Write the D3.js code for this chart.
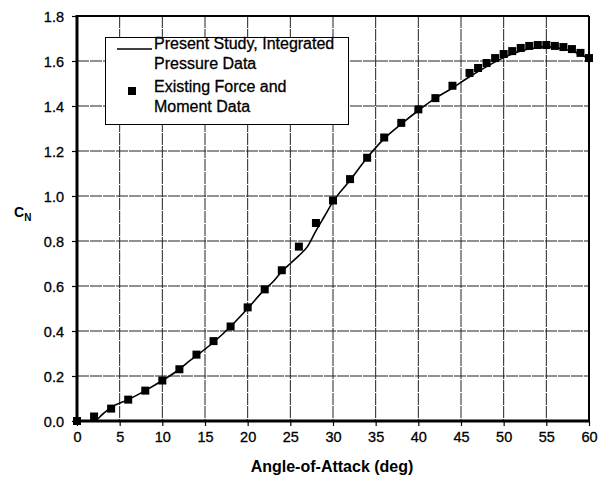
<!DOCTYPE html>
<html>
<head>
<meta charset="utf-8">
<script src="https://cdn.jsdelivr.net/npm/d3@7"></script>
<style>
  body { margin: 0; background: #fff; }
  svg { font-family: "Liberation Sans", Arial, sans-serif; }
</style>
</head>
<body>
<div id="content"></div>
<script>
// existing force and moment data (squares)
const forceAlpha = [0, 2, 4, 6, 8, 10, 12, 14, 16, 18, 20, 22, 24, 26, 28, 30, 32, 34, 36, 38, 40, 42, 44,
  46, 47, 48, 49, 50, 51, 52, 53, 54, 55, 56, 57, 58, 59, 60];
const forceCN = [0.0, 0.02, 0.055, 0.095, 0.135, 0.18, 0.23, 0.295, 0.355, 0.42, 0.505, 0.585, 0.67, 0.775, 0.88, 0.98,
  1.075, 1.17, 1.26, 1.325, 1.385, 1.435, 1.49,
  1.547, 1.569, 1.591, 1.613, 1.631, 1.644, 1.658, 1.667, 1.671, 1.671, 1.667, 1.662, 1.653, 1.636, 1.613];

// present study, integrated pressure data (line)
const pressAlpha = [0, 2, 3, 4, 6, 8, 10, 12, 13, 14, 16, 18, 20, 22, 23, 24, 25, 26, 27, 28, 29, 30,
  32, 34, 36, 38, 40, 42, 44, 46, 48, 50, 52, 54, 55, 56, 58, 60];
const pressCN = [0.0, 0.0, 0.03, 0.06, 0.095, 0.135, 0.18, 0.23, 0.262, 0.29, 0.35, 0.42, 0.50, 0.585, 0.62, 0.665,
  0.70, 0.735, 0.775, 0.845, 0.91, 0.975, 1.07, 1.17, 1.255, 1.32, 1.38, 1.435, 1.48, 1.53, 1.575, 1.615,
  1.645, 1.66, 1.665, 1.66, 1.645, 1.61];

const xTicks = [0, 5, 10, 15, 20, 25, 30, 35, 40, 45, 50, 55, 60];
const yTicks = [0, 0.2, 0.4, 0.6, 0.8, 1.0, 1.2, 1.4, 1.6, 1.8];
const legendLabels = [["Present Study, Integrated", "Pressure Data"], ["Existing Force and", "Moment Data"]];

const W = 606, H = 479;
const svg = d3.select("#content").append("svg").attr("width", W).attr("height", H);

const x = d3.scaleLinear().domain([0, 60]).range([77, 589]);
const y = d3.scaleLinear().domain([0, 1.8]).range([421, 16]);

// grid
svg.append("g").selectAll("line").data(xTicks.slice(1, -1)).join("line")
  .attr("x1", d => x(d)).attr("x2", d => x(d))
  .attr("y1", y(1.8)).attr("y2", y(0))
  .attr("stroke", "#222").attr("stroke-width", 1).attr("stroke-dasharray", "12,1");
svg.append("g").selectAll("line").data(yTicks.slice(1, -1)).join("line")
  .attr("x1", x(0)).attr("x2", x(60))
  .attr("y1", d => y(d)).attr("y2", d => y(d))
  .attr("stroke", "#222").attr("stroke-width", 1).attr("stroke-dasharray", "12,1");

// axes
const xAxis = svg.append("g").attr("transform", `translate(0,${y(0)})`)
  .call(d3.axisBottom(x).tickValues(xTicks).tickSize(5).tickSizeOuter(0).tickPadding(6).tickFormat(d3.format("d")));
const yAxis = svg.append("g").attr("transform", `translate(${x(0)},0)`)
  .call(d3.axisLeft(y).tickValues(yTicks).tickSize(5).tickSizeOuter(0).tickPadding(8).tickFormat(d3.format(".1f")));
[xAxis, yAxis].forEach(a => {
  a.select(".domain").remove();
  a.selectAll(".tick line").attr("stroke", "#000").attr("stroke-width", 1.2);
  a.selectAll("text").attr("font-size", 14.5).attr("fill", "#000")
    .attr("stroke", "#000").attr("stroke-width", 0.3)
    .attr("font-family", "Liberation Sans, Arial, sans-serif");
});
yAxis.selectAll("text").attr("dy", "0.36em");

// frame
svg.append("line").attr("x1", x(0)).attr("x2", x(60)).attr("y1", y(1.8)).attr("y2", y(1.8))
  .attr("stroke", "#000").attr("stroke-width", 2);
svg.append("line").attr("x1", x(60)).attr("x2", x(60)).attr("y1", y(1.8)).attr("y2", y(0))
  .attr("stroke", "#000").attr("stroke-width", 2);
svg.append("line").attr("x1", x(0)).attr("x2", x(0)).attr("y1", y(1.8) - 1).attr("y2", y(0) + 1.5)
  .attr("stroke", "#000").attr("stroke-width", 3);
svg.append("line").attr("x1", x(0) - 1.5).attr("x2", x(60) + 1).attr("y1", y(0)).attr("y2", y(0))
  .attr("stroke", "#000").attr("stroke-width", 3);

// line series
const line = d3.line().x((d, i) => x(pressAlpha[i])).y(d => y(d)).curve(d3.curveMonotoneX);
svg.append("path").datum(pressCN).attr("d", line)
  .attr("fill", "none").attr("stroke", "#000").attr("stroke-width", 1.6);

// squares
const s = 8;
svg.append("g").selectAll("rect").data(forceCN).join("rect")
  .attr("x", (d, i) => x(forceAlpha[i]) - s / 2).attr("y", d => y(d) - s / 2)
  .attr("width", s).attr("height", s).attr("fill", "#000");

// legend
const lg = svg.append("g");
lg.append("rect").attr("x", 105.5).attr("y", 37.5).attr("width", 243).attr("height", 87)
  .attr("fill", "#fff").attr("stroke", "#000").attr("stroke-width", 1);
lg.append("line").attr("x1", 117).attr("x2", 152).attr("y1", 49).attr("y2", 49)
  .attr("stroke", "#000").attr("stroke-width", 1.6);
lg.append("rect").attr("x", 128).attr("y", 87).attr("width", s).attr("height", s).attr("fill", "#000");
const lines = [legendLabels[0][0], legendLabels[0][1], legendLabels[1][0], legendLabels[1][1]];
const lineY = [49, 69, 92, 112];
lg.selectAll("text").data(lines).join("text")
  .attr("x", 154).attr("y", (d, i) => lineY[i]).attr("font-size", 16).attr("fill", "#000")
  .attr("stroke", "#000").attr("stroke-width", 0.3)
  .text(d => d);

// axis titles
svg.append("text").attr("x", 332).attr("y", 472).attr("text-anchor", "middle")
  .attr("font-size", 16).attr("font-weight", "bold").text("Angle-of-Attack (deg)");
const cn = svg.append("text").attr("x", 14).attr("y", 217).attr("font-size", 14).attr("font-weight", "bold");
cn.append("tspan").text("C");
cn.append("tspan").attr("font-size", 10).attr("dy", 4).text("N");
</script>
</body>
</html>
